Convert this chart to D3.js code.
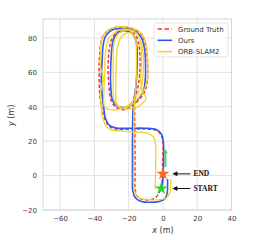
<!DOCTYPE html>
<html>
<head>
<meta charset="utf-8">
<script src="https://cdn.jsdelivr.net/npm/d3@7"></script>
<style>
  body { margin: 0; background: #fff; }
  svg { display: block; font-family: "DejaVu Sans", sans-serif; }
</style>
</head>
<body>
<svg id="chart" width="274" height="240"></svg>
<script>
// trajectories, [x, y] in metres
const groundTruth = [
  [-1,-7.5],[-0.4,-2],[-0.2,5],[0,12],[0,19],[-1,23.5],[-4,26.3],[-10,27],[-20,27],[-27,27],
  [-31,28.5],[-33.5,32],[-35.5,38],[-36.8,46],[-37.2,56],[-37.2,66],[-36.5,75],[-35,81],[-31,85],
  [-25,86.3],[-18,85.5],[-12.5,82],[-10,75],[-9,65],[-9,56],[-10.5,49],[-14,44],[-19,40],
  [-23,38.3],[-27,39.5],[-30,43],[-31.5,52],[-32,62],[-31.5,72],[-30,79],[-27,83],[-22,84.5],
  [-17,83],[-14.5,78],[-13.5,70],[-13.5,60],[-14.5,52],[-16,46],[-16.5,40],[-16.5,32],[-16.4,22],
  [-16.3,10],[-16.3,0],[-16.2,-8],[-15,-12],[-12,-13.8],[-7,-14],[-4,-12.5],[-2,-9.5],[-0.5,-4],[0,1]
];
const ours = [
  [-0.5,-7],[0,-2],[0.3,5],[0.4,12],[0.3,19],[-0.8,24],[-4,26.8],[-10,27.5],[-20,27.5],[-27,27.6],
  [-31,29],[-33.5,33],[-34.5,39],[-35.5,47],[-36,56],[-35.5,66],[-35,75],[-33.5,81],[-30,84.5],
  [-24,85.5],[-18,84.8],[-13,81],[-10.8,74],[-10.2,65],[-10.3,56],[-11.5,49],[-15,44],[-19.5,40.5],
  [-23.5,39.5],[-27,40.5],[-29.5,44],[-30.5,53],[-30.5,63],[-30,72],[-29,79],[-26.5,83],[-21.5,84],
  [-17.5,82],[-15.5,77],[-15,69],[-15.2,60],[-15.8,52],[-16.8,45],[-17.5,38],[-17.7,30],[-17.8,20],
  [-17.8,8],[-17.8,-2],[-17.6,-9],[-16,-13],[-12.5,-15],[-7,-15.5],[-2,-15],[1.2,-13.5],[2.5,-10],
  [2.7,-5],[2.7,-2]
];
const orbSlam = [
  [-4.5,-8],[-4.3,0],[-4.2,10],[-4.3,18],[-5.5,22.5],[-9,24.7],[-17,25.3],[-25,26],[-30,26.5],
  [-33,28.5],[-35,33],[-36,40],[-36.5,48],[-35,56],[-36.5,64],[-36.5,72],[-35.5,80],[-32,84.5],
  [-26,86.5],[-19,86],[-13,83],[-10,77],[-9,68],[-9,58],[-10,52],[-13,47],[-17,42],[-22,39.5],
  [-26,40],[-28.5,44],[-29,55],[-29,68],[-28.5,77],[-26,82.5],[-21,84.5],[-16,83],[-13,78],
  [-11.5,70],[-11.5,60],[-12.5,52],[-15,47],[-20,41],[-26,38.5],[-31,38.3],[-34,40],[-34.5,48],
  [-34,60],[-33.5,72],[-31.5,80],[-27,84],[-20,85],[-15,82.5],[-13,76],[-12.5,65],[-13,55],
  [-12,49],[-10,45],[-13,41],[-18,39],[-24,39.2],[-27,42],[-27.5,52],[-27.3,64],[-26.5,75],
  [-24,81],[-19,83],[-16,79],[-15.5,70],[-15.5,58],[-16.2,48],
  [-16.8,40],[-17,32],[-17.1,18],[-17.1,5],[-17,-6],[-15.8,-11],[-13,-13.2],
  [-8,-14],[-2,-14],[2,-13],[4,-10],[4.5,-6],[4.5,-2]
];
const startPt = [-1, -7.5];
const endPt = [0, 1];
const headingArrow = [[1.5, 5], [1.5, 15]];

const xTicks = [-60, -40, -20, 0, 20, 40];
const yTicks = [-20, 0, 20, 40, 60, 80];
const seriesNames = ["Ground Truth", "Ours", "ORB-SLAM2"];
const seriesColors = ["#ff3030", "#2450f5", "#f2d22a"];

const svg = d3.select("#chart");
const x = d3.scaleLinear().domain([-70, 40]).range([43, 231.5]);
const y = d3.scaleLinear().domain([-20, 91]).range([210, 19]);

// grid
const g = svg.append("g");
g.selectAll(".gx").data(xTicks).join("line")
  .attr("x1", d => x(d)).attr("x2", d => x(d)).attr("y1", y(-20)).attr("y2", y(91))
  .attr("stroke", "#dedede").attr("stroke-width", 0.9);
g.selectAll(".gy").data(yTicks).join("line")
  .attr("y1", d => y(d)).attr("y2", d => y(d)).attr("x1", x(-70)).attr("x2", x(40))
  .attr("stroke", "#dedede").attr("stroke-width", 0.9);
g.append("rect").attr("x", x(-70)).attr("y", y(91))
  .attr("width", x(40) - x(-70)).attr("height", y(-20) - y(91))
  .attr("fill", "none").attr("stroke", "#d6d6d6").attr("stroke-width", 1);

// axes
const xAxis = svg.append("g").attr("transform", `translate(0,${y(-20)})`)
  .call(d3.axisBottom(x).tickValues(xTicks).tickSize(0).tickPadding(6).tickFormat(d => d < 0 ? "\u2212" + (-d) : d));
const yAxis = svg.append("g").attr("transform", `translate(${x(-70)},0)`)
  .call(d3.axisLeft(y).tickValues(yTicks).tickSize(0).tickPadding(6).tickFormat(d => d < 0 ? "\u2212" + (-d) : d));
[xAxis, yAxis].forEach(a => {
  a.select(".domain").remove();
  a.selectAll("text").attr("font-size", 7).attr("fill", "#3a3a3a").attr("font-family", "DejaVu Sans");
});

svg.append("text").attr("x", x(0)).attr("y", 233).attr("text-anchor", "middle")
  .attr("font-size", 8).attr("fill", "#333")
  .html('<tspan font-style="italic">x</tspan> (m)');
svg.append("text").attr("transform", `translate(14,${y(35)}) rotate(-90)`).attr("text-anchor", "middle")
  .attr("font-size", 8).attr("fill", "#333")
  .html('<tspan font-style="italic">y</tspan> (m)');

// trajectories
const line = d3.line().x(d => x(d[0])).y(d => y(d[1])).curve(d3.curveCatmullRom.alpha(0.5));
const plot = svg.append("g");
plot.append("path").attr("d", line(groundTruth)).attr("fill", "none")
  .attr("stroke", seriesColors[0]).attr("stroke-width", 1.5).attr("stroke-dasharray", "3.5,2");
plot.append("path").attr("d", line(ours)).attr("fill", "none")
  .attr("stroke", seriesColors[1]).attr("stroke-width", 1.6).attr("opacity", 0.95);
plot.append("path").attr("d", line(orbSlam)).attr("fill", "none")
  .attr("stroke", seriesColors[2]).attr("stroke-width", 1.4).attr("opacity", 0.95);

// green heading arrow
svg.append("line")
  .attr("x1", x(headingArrow[0][0])).attr("y1", y(headingArrow[0][1]))
  .attr("x2", x(headingArrow[1][0])).attr("y2", y(headingArrow[1][1]) + 3)
  .attr("stroke", "#4fd64f").attr("stroke-width", 1.7);
svg.append("path")
  .attr("d", `M${x(headingArrow[1][0]) - 2.3},${y(headingArrow[1][1]) + 3.5} L${x(headingArrow[1][0])},${y(headingArrow[1][1]) - 0.8} L${x(headingArrow[1][0]) + 2.3},${y(headingArrow[1][1]) + 3.5}Z`)
  .attr("fill", "#4fd64f");

// stars
svg.append("path").attr("d", d3.symbol(d3.symbolStar, 52)())
  .attr("transform", `translate(${x(endPt[0])},${y(endPt[1])})`).attr("fill", "#ff6a1e");
svg.append("path").attr("d", d3.symbol(d3.symbolStar, 52)())
  .attr("transform", `translate(${x(startPt[0])},${y(startPt[1])})`).attr("fill", "#28d628");

// annotations
const notes = [{label: "END", at: endPt}, {label: "START", at: startPt}];
notes.forEach(n => {
  const yy = y(n.at[1]);
  const tip = x(5.5), tail = x(16);
  svg.append("line").attr("x1", tail).attr("x2", tip + 4).attr("y1", yy).attr("y2", yy)
    .attr("stroke", "#111").attr("stroke-width", 1);
  svg.append("path").attr("d", `M${tip},${yy} L${tip + 5},${yy - 2.5} L${tip + 5},${yy + 2.5}Z`).attr("fill", "#111");
  svg.append("text").attr("x", x(17.8)).attr("y", yy + 2.6)
    .attr("font-family", "Liberation Serif, serif").attr("font-weight", "bold")
    .attr("font-size", 7.5).attr("fill", "#111").text(n.label);
});

// legend
const lg = svg.append("g").attr("transform", "translate(154,23)");
lg.append("rect").attr("width", 74).attr("height", 34).attr("rx", 2)
  .attr("fill", "#fff").attr("fill-opacity", 0.85).attr("stroke", "#dcdcdc").attr("stroke-width", 0.8);
seriesNames.forEach((s, i) => {
  const yy = 6 + i * 11.3;
  lg.append("line").attr("x1", 3.5).attr("x2", 18).attr("y1", yy).attr("y2", yy)
    .attr("stroke", seriesColors[i]).attr("stroke-width", 1.5)
    .attr("stroke-dasharray", i === 0 ? "4.5,2.5" : null);
  lg.append("text").attr("x", 24).attr("y", yy + 2.5).attr("font-size", 7)
    .attr("fill", "#333").text(s);
});
</script>
</body>
</html>
